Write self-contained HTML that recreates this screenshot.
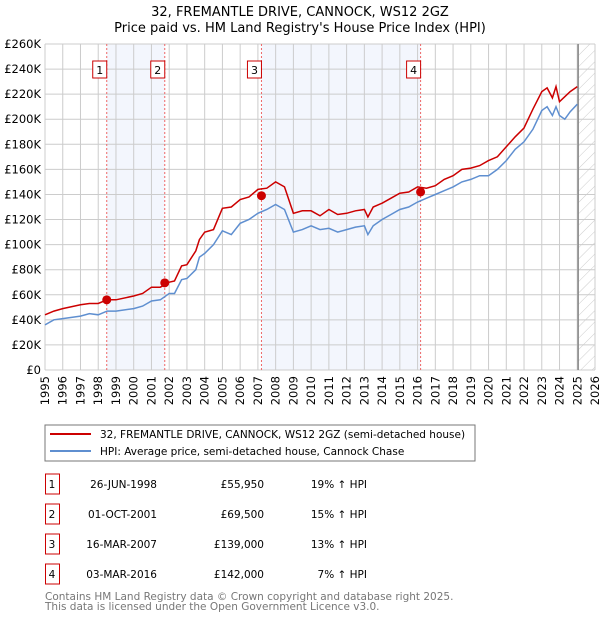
<!DOCTYPE html>
<html><head><meta charset="utf-8"><style>
body{margin:0;background:#fff;font-family:"DejaVu Sans","Liberation Sans",sans-serif;}
svg text{font-family:"DejaVu Sans","Liberation Sans",sans-serif;}
</style></head><body>
<svg id="c" width="600" height="620" xmlns="http://www.w3.org/2000/svg">
<defs><pattern id="hatch" width="8" height="8" patternUnits="userSpaceOnUse" patternTransform="rotate(45)"><line x1="0" y1="0" x2="0" y2="8" stroke="#ccc" stroke-width="1"/></pattern></defs>
<text x="300" y="16" text-anchor="middle" font-size="13">32, FREMANTLE DRIVE, CANNOCK, WS12 2GZ</text>
<text x="300" y="32" text-anchor="middle" font-size="13">Price paid vs. HM Land Registry's House Price Index (HPI)</text>
<g id="plot"></g>
<rect x="45" y="425" width="430" height="36" fill="#fff" stroke="#777"/>
<line x1="50" y1="434" x2="91" y2="434" stroke="#cc0000" stroke-width="2"/>
<text x="100" y="438" font-size="10.5">32, FREMANTLE DRIVE, CANNOCK, WS12 2GZ (semi-detached house)</text>
<line x1="50" y1="451" x2="91" y2="451" stroke="#5f8fd0" stroke-width="2"/>
<text x="100" y="455" font-size="10.5">HPI: Average price, semi-detached house, Cannock Chase</text>
<g id="table" font-size="10.5"></g>
<text x="45" y="600" font-size="10.5" fill="#777">Contains HM Land Registry data © Crown copyright and database right 2025.</text>
<text x="45" y="610" font-size="10.5" fill="#777">This data is licensed under the Open Government Licence v3.0.</text>
</svg>
<script>
const years=[1995,1995.5,1996,1997,1997.5,1998,1998.5,1999,2000,2000.5,2001,2001.5,2002,2002.3,2002.7,2003,2003.5,2003.7,2004,2004.5,2005,2005.5,2006,2006.5,2007,2007.5,2008,2008.5,2009,2009.5,2010,2010.5,2011,2011.5,2012,2012.5,2013,2013.2,2013.5,2014,2014.5,2015,2015.5,2016,2016.5,2017,2017.5,2018,2018.5,2019,2019.5,2020,2020.5,2021,2021.5,2022,2022.5,2023,2023.3,2023.6,2023.8,2024,2024.3,2024.6,2025];
const hpiValues=[36,40,41,43,45,44,47,47,49,51,55,56,61,61,72,73,80,90,93,100,111,108,117,120,125,128,132,128,110,112,115,112,113,110,112,114,115,108,115,120,124,128,130,134,137,140,143,146,150,152,155,155,160,167,176,182,192,207,210,203,210,203,200,206,212];
const propValues=[44,47,49,52,53,53,56,56,59,61,66,66,70,71,83,84,95,104,110,112,129,130,136,138,144,145,150,146,125,127,127,123,128,124,125,127,128,122,130,133,137,141,142,146,145,147,152,155,160,161,163,167,170,178,186,193,208,222,225,217,226,214,218,222,226];
const saleDates=[1998.48,2001.75,2007.2,2016.17];
const saleDateLabels=["26-JUN-1998","01-OCT-2001","16-MAR-2007","03-MAR-2016"];
const salePrices=[55.95,69.5,139,142];
const salePriceLabels=["£55,950","£69,500","£139,000","£142,000"];
const hpiDiff=["19% ↑ HPI","15% ↑ HPI","13% ↑ HPI","7% ↑ HPI"];
const yTicks=[0,20,40,60,80,100,120,140,160,180,200,220,240,260];
const xTicks=[1995,1996,1997,1998,1999,2000,2001,2002,2003,2004,2005,2006,2007,2008,2009,2010,2011,2012,2013,2014,2015,2016,2017,2018,2019,2020,2021,2022,2023,2024,2025,2026];
const NS="http://www.w3.org/2000/svg";
const X0=45,X1=595,Y0=370,Y1=44;
const xs=v=>X0+(v-1995)/(2026-1995)*(X1-X0);
const ys=v=>Y0-v/260*(Y0-Y1);
const g=document.getElementById('plot');
function mk(t,a,p){const e=document.createElementNS(NS,t);for(const k in a)e.setAttribute(k,a[k]);(p||g).appendChild(e);return e;}
for(let i=0;i<saleDates.length;i+=2){
 const r=mk('rect',{x:xs(saleDates[i]),y:Y1,width:xs(saleDates[i+1])-xs(saleDates[i]),height:Y0-Y1,fill:'#f3f6fd'});
 
 
}
const hz=mk('rect',{x:xs(2025.05),y:Y1,width:X1-xs(2025.05),height:Y0-Y1,fill:'url(#hatch)'});


yTicks.forEach(v=>{
 const l=mk('line',{x1:X0,x2:X1,y1:ys(v),y2:ys(v),stroke:'#ccc'});
 
 
 const t=mk('text',{x:X0-4,y:ys(v)+4,'text-anchor':'end','font-size':'11.5'});
 t.textContent=v===0?'£0':'£'+v+'K';
 
 
});
xTicks.forEach(v=>{
 const l=mk('line',{x1:xs(v),x2:xs(v),y1:Y1,y2:Y0,stroke:'#ccc'});
 
 
 const t=mk('text',{x:0,y:0,'text-anchor':'end','font-size':'11.5',transform:`translate(${xs(v)+4},${Y0+6}) rotate(-90)`});
 t.textContent=v;
 
 
});
const nl=mk('line',{x1:xs(2025.05),x2:xs(2025.05),y1:Y1,y2:Y0,stroke:'#888','stroke-width':1.5});


saleDates.forEach((d,i)=>{
 const l=mk('line',{x1:xs(d),x2:xs(d),y1:Y1,y2:Y0,stroke:'#e66','stroke-dasharray':'2,2'});
 
 
 const b=mk('rect',{x:xs(d)-14,y:61,width:14,height:17,fill:'#fff',stroke:'#c00'});
 
 
 const t=mk('text',{x:xs(d)-7,y:74,'text-anchor':'middle','font-size':'11'});
 t.textContent=i+1;
 
 
});
const pts=a=>a.map((v,i)=>xs(years[i]).toFixed(1)+','+ys(v).toFixed(1)).join(' ');
const hl=mk('polyline',{points:pts(hpiValues),fill:'none',stroke:'#5f8fd0','stroke-width':1.5});


const pl=mk('polyline',{points:pts(propValues),fill:'none',stroke:'#cc0000','stroke-width':1.5});


saleDates.forEach((d,i)=>{
 const c=mk('circle',{cx:xs(d),cy:ys(salePrices[i]),r:4.5,fill:'#cc0000'});
 
 
});
const tb=document.getElementById('table');
saleDates.forEach((d,i)=>{
 const y=487+i*30;
 const b=mk('rect',{x:45.5,y:y-13,width:14,height:20,fill:'#fff',stroke:'#c00'},tb);
 
 
 const cells=[[52,'middle',String(i+1)],[157,'end',saleDateLabels[i]],[264,'end',salePriceLabels[i]],[367,'end',hpiDiff[i]]];
 cells.forEach(([x,a,s],j)=>{
  const t=mk('text',{x:x,y:y+1,'text-anchor':a},tb);
  t.textContent=s;
  
  
 });
});
</script>
</body></html>
